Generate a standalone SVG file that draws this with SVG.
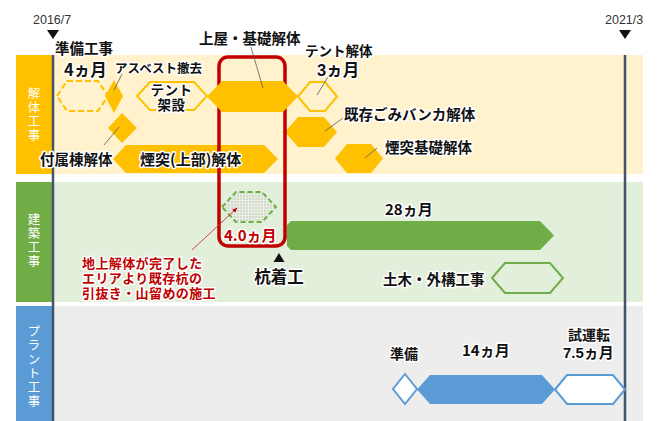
<svg xmlns="http://www.w3.org/2000/svg" width="659" height="421" viewBox="0 0 659 421">
<style>
.t{font-family:"Noto Sans CJK JP","Noto Sans",sans-serif;font-weight:bold;fill:#111;stroke:#fff;stroke-width:3;paint-order:stroke;stroke-linejoin:round}
.m{font-family:"Liberation Sans","Noto Sans CJK JP",sans-serif}
.r{fill:#C00000}
.lab{font-family:"Noto Sans CJK JP",sans-serif;font-size:12.5px;fill:#fff;writing-mode:vertical-rl;letter-spacing:1.5px}
.date{font-family:"Liberation Sans",Arial,sans-serif;font-size:12.5px;fill:#333}
.yf{fill:#FFC000}
.yo{fill:#FFF2CC;stroke:#FFC000;stroke-width:2}
.lead{stroke:#595959;stroke-width:0.8;fill:none}
</style>
<defs>
<pattern id="dots" width="3" height="3" patternUnits="userSpaceOnUse">
<rect width="3" height="3" fill="#E8EEE2"/>
<circle cx="1" cy="1" r="0.7" fill="#AEB8A4"/>
</pattern>
<marker id="ah" viewBox="0 0 10 10" refX="9" refY="5" markerWidth="6" markerHeight="6" orient="auto">
<path d="M0,1 L10,5 L0,9 z" fill="#C00000"/>
</marker>
</defs>

<g id="bands">
<rect x="53" y="55" width="590" height="119" fill="#FFF2CC"/>
<rect x="16" y="55" width="37" height="119" fill="#FFC000"/>
<rect x="53" y="182" width="590" height="120" fill="#E2EFDA"/>
<rect x="16" y="182" width="37" height="120" fill="#70AD47"/>
<rect x="53" y="306" width="590" height="115" fill="#EDEDED"/>
<rect x="16" y="306" width="37" height="115" fill="#5B9BD5"/>
<text class="lab" x="34" y="87">解体工事</text>
<text class="lab" x="34" y="213">建築工事</text>
<text class="lab" x="34" y="325">プラント工事</text>
</g>

<g id="timeline">
<line x1="53" y1="55" x2="53" y2="421" stroke="#44546A" stroke-width="2.5"/>
<line x1="625" y1="55" x2="625" y2="421" stroke="#44546A" stroke-width="2.5"/>
<polygon points="47,30 59,30 53,39" fill="#111"/>
<polygon points="619,30 631,30 625,39" fill="#111"/>
<text class="date" x="33" y="24">2016/7</text>
<text class="date" x="605" y="24">2021/3</text>
</g>

<g id="demolition">
<polygon id="prep" points="57,96 67,81 98,81 108,96 98,111 67,111" fill="#FFF2CC" stroke="#FFC000" stroke-width="2" stroke-dasharray="6 3"/>
<polygon id="asbestos" class="yf" points="114,80 123,96 114,113 105,96"/>
<polygon id="tent-build" class="yo" points="137,96 150,82 194,82 207,96 194,110 150,110"/>
<polygon id="annex" class="yf" points="122,113 137,128 122,143 108,128"/>
<polygon id="chimney-top" class="yf" points="113,159 126,145 264,145 278,159 264,173 126,173"/>
<polygon id="tent-remove" class="yo" points="298,96.5 310,82 325,82 337,96.5 325,111 310,111"/>
<polygon id="bunker" class="yf" points="285,132 298,117 324,117 337,132 324,147 298,147"/>
<polygon id="chimney-base" class="yf" points="335,158.5 347,144 371,144 383,158.5 371,173 347,173"/>
</g>

<g id="highlight">
<rect x="219" y="57" width="66" height="189" rx="9" fill="none" stroke="#C00000" stroke-width="3.5"/>
</g>

<g id="roof">
<polygon class="yf" points="207,96.5 222,81 283,81 298,96.5 283,112 222,112"/>
</g>

<g id="building">
<polygon id="pile-removal" points="222,207 236,192 262,192 276,207 262,222 236,222" fill="url(#dots)" stroke="#70AD47" stroke-width="2" stroke-dasharray="5 3"/>
<polygon id="build-main" points="287,225 291,221 540,221 554,235.5 540,250 291,250 287,246" fill="#70AD47"/>
<polygon id="civil" points="492,278 505,263 550,263 563,278 550,293 505,293" fill="#E2EFDA" stroke="#70AD47" stroke-width="2"/>
<polygon id="pile-start" points="279,253 284.5,262 273.5,262" fill="#111"/>
</g>

<g id="plant">
<polygon id="plant-prep" points="405,374 417,389 405,404 393,389" fill="#FFFFFF" stroke="#5B9BD5" stroke-width="2"/>
<polygon id="plant-main" points="417,389.5 430,375 542,375 555,389.5 542,404 430,404" fill="#5B9BD5"/>
<polygon id="trial" points="555,389.5 567,375 613,375 625,389.5 613,404 567,404" fill="#FFFFFF" stroke="#5B9BD5" stroke-width="2"/>
</g>

<g id="connectors">
<line class="lead" x1="122" y1="74" x2="114" y2="90"/>
<line class="lead" x1="250" y1="44" x2="263" y2="88"/>
<line class="lead" x1="328" y1="77" x2="317" y2="95"/>
<line class="lead" x1="343" y1="118" x2="325" y2="131"/>
<line class="lead" x1="377" y1="148" x2="365" y2="158"/>
<line class="lead" x1="104" y1="145" x2="119" y2="127"/>
<line x1="192" y1="250" x2="237" y2="208" stroke="#D03030" stroke-width="0.9" marker-end="url(#ah)"/>
</g>

<g id="labels">
<text class="t" x="55" y="54" font-size="14.5">準備工事</text>
<text class="t" x="64" y="76" font-size="16.5">4ヵ月</text>
<text class="t" x="115" y="73" font-size="12.5">アスベスト撤去</text>
<text class="t m" x="171.5" y="94.5" font-size="13.5" text-anchor="middle" letter-spacing="0.5">テント</text>
<text class="t m" x="171.5" y="110" font-size="13.5" text-anchor="middle" letter-spacing="0.5">架設</text>
<text class="t" x="199" y="44" font-size="14.5">上屋・基礎解体</text>
<text class="t m" x="305" y="56" font-size="13.5">テント解体</text>
<text class="t m" x="317" y="76" font-size="16.5">3ヵ月</text>
<text class="t" x="344" y="120" font-size="14.5">既存ごみバンカ解体</text>
<text class="t" x="385" y="153" font-size="14.5">煙突基礎解体</text>
<text class="t" x="40" y="165" font-size="14.5">付属棟解体</text>
<text class="t" x="140" y="165" font-size="15">煙突(上部)解体</text>
<text class="t" x="385" y="215" font-size="15">28ヵ月</text>
<text class="t" x="383" y="285" font-size="14.5">土木・外構工事</text>
<text class="t" x="279" y="283" font-size="16.5" text-anchor="middle">杭着工</text>
<text class="t r" x="224" y="241" font-size="15">4.0ヵ月</text>
<text class="t m r" x="82" y="268" font-size="13" letter-spacing="0.4">地上解体が完了した</text>
<text class="t m r" x="82" y="283" font-size="13" letter-spacing="0.4">エリアより既存杭の</text>
<text class="t m r" x="82" y="298" font-size="13" letter-spacing="0.4">引抜き・山留めの施工</text>
<text class="t" x="390" y="359" font-size="14">準備</text>
<text class="t" x="462" y="356" font-size="15">14ヵ月</text>
<text class="t m" x="568" y="340" font-size="14">試運転</text>
<text class="t m" x="563" y="358" font-size="15">7.5ヵ月</text>
</g>
</svg>
